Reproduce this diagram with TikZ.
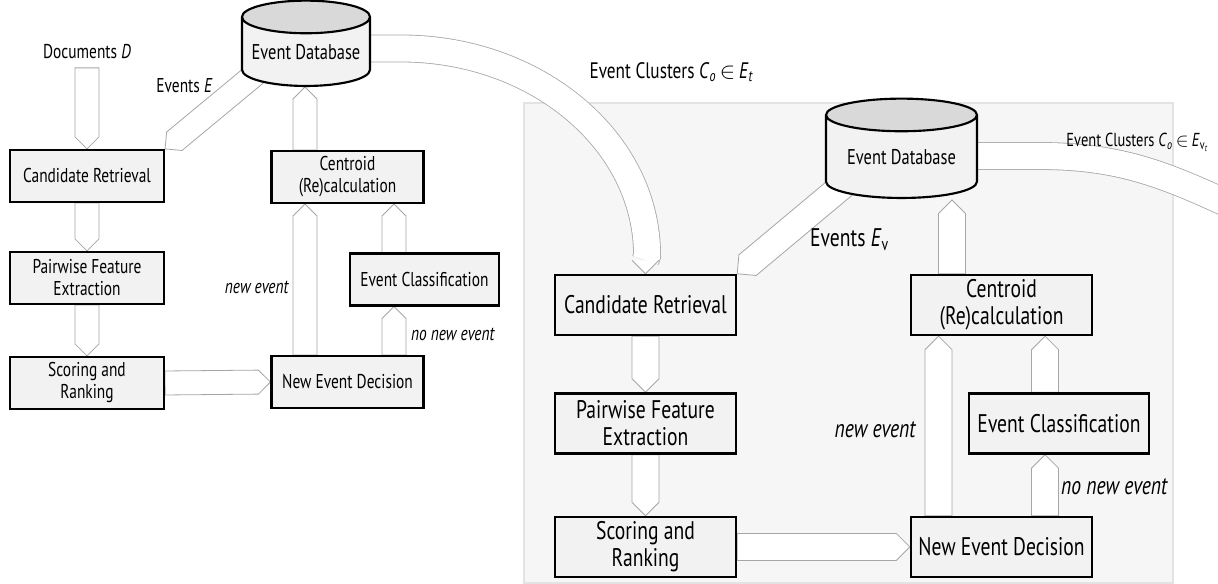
\documentclass[tikz,border=0pt]{standalone}
\usepackage{fontspec}
\setmainfont[FakeStretch = 0.77]{PT Sans}
\usetikzlibrary{shapes.geometric, calc}
\definecolor{boxfill}{HTML}{F2F2F2}
\definecolor{panelfill}{HTML}{F6F6F6}
\definecolor{paneldraw}{HTML}{E3E3E3}
\definecolor{arrowline}{HTML}{A6A6A6}
\definecolor{dbtop}{HTML}{D9D9D9}
\pgfdeclarelayer{panel}
\pgfdeclarelayer{arrows}
\pgfsetlayers{panel,arrows,main}
\tikzset{
    lbox/.style = {draw, line width = 1.6pt, fill = boxfill, align = center, inner sep = 0pt, minimum width = 115.5pt, minimum height = 39pt, font = \fontsize{15}{16.5}\selectfont},
    rbox/.style = {lbox, line width = 1.8pt, minimum width = 135.75pt, minimum height = 45pt, font = \fontsize{19.1}{20.3}\selectfont},
    dbase/.style = {cylinder, shape border rotate = 90, draw, line width = 1.6pt, cylinder uses custom fill, cylinder body fill = boxfill, cylinder end fill = dbtop, aspect = 0.3, inner sep = 0pt, font = \fontsize{16}{18}\selectfont},
    blockarr/.style = {draw = arrowline, fill = white, line width = 0.6pt, line join = miter},
    band/.style = {draw = arrowline, double = white, double distance = 19.65pt, line width = 0.6pt},
    lfont/.style = {font = \fontsize{15}{16.5}\selectfont},
    rfont/.style = {font = \fontsize{19.1}{20.3}\selectfont}
}
% block arrow: half width, tail, tip
\newcommand{\blockarrow}[3]{%
    \path #2 coordinate (ba1) #3 coordinate (ba2);
    \coordinate (ba3) at ($(ba2)!#1!(ba1)$);
    \filldraw[blockarr] ($(ba1)!#1!90:(ba2)$) -- ($(ba3)!#1!-90:(ba1)$) -- (ba2) -- ($(ba3)!#1!90:(ba1)$) -- ($(ba1)!#1!-90:(ba2)$) -- cycle;
}
\begin{document}
\begin{tikzpicture}[x = 0.75pt, y = 0.75pt]
        \useasboundingbox (0, 0) rectangle (1218, 584);
        \begin{pgfonlayer}{panel}
            \filldraw[fill = panelfill, draw = paneldraw, line width = 0.8pt] (524, 1) rectangle (1173, 481);
        \end{pgfonlayer}
        % left pipeline
        \node[dbase, minimum width = 96pt, minimum height = 64pt](db1) at (306, 532){Event Database};
        \node[lfont](doc) at (87, 532){Documents \textit{D}};
        \node[lfont](evE) at (184.5, 498){Events \textit{E}};
        \node[lbox](cr1) at (87, 408){Candidate Retrieval};
        \node[lbox](pfe1) at (87, 306){Pairwise Feature\\Extraction};
        \node[lbox](sr1) at (87, 201){Scoring and\\Ranking};
        \node[lbox, minimum width = 114pt](ned1) at (347.5, 202){New Event Decision};
        \node[lbox, minimum width = 114pt](cc1) at (347.5, 407){Centroid\\(Re)calculation};
        \node[lbox, minimum width = 111.75pt](ec1) at (424.5, 304.5){Event Classification};
        \node[lfont](ne1) at (257, 297){\textit{new event}};
        \node[lfont](nne1) at (453, 250){\textit{no new event}};
        \coordinate (up1) at ($(cc1.south)+(-42.5, 0)$);
        \coordinate (up2) at ($(ec1.south)+(-30.5, 0)$);
        % right pipeline
        \node[dbase, minimum width = 113.25pt, minimum height = 74.5pt](db2) at (901.5, 427){Event Database};
        \node[font = \fontsize{16.8}{18}\selectfont](clu1) at (671.5, 512){Event Clusters \textit{C}\textsubscript{\textit{o}}\,$\in$\,\textit{E}\textsubscript{\textit{t}}};
        \node[rfont](evEv) at (849.5, 344){Events \textit{E}\textsubscript{v}};
        \node[font = \fontsize{14.1}{16}\selectfont](clu2) at (1137.5, 442){Event Clusters \textit{C}\textsubscript{\textit{o}}\,$\in$\,\textit{E}\textsubscript{v\textsubscript{\textit{t}}}};
        \node[rbox](cr2) at (645.5, 279){Candidate Retrieval};
        \node[rbox](pfe2) at (645.5, 160.5){Pairwise Feature\\Extraction};
        \node[rbox](sr2) at (645.5, 37){Scoring and\\Ranking};
        \node[rbox](ned2) at (1001.5, 37){New Event Decision};
        \node[rbox](cc2) at (1001.5, 279){Centroid\\(Re)calculation};
        \node[rbox, minimum width = 135pt](ec2) at (1059, 160.5){Event Classification};
        \node[rfont](ne2) at (875.5, 154){\textit{new event}};
        \node[rfont](nne2) at (1114.5, 97){\textit{no new event}};
        \coordinate (up3) at ($(cc2.south)+(-63, 0)$);
        \coordinate (up4) at ($(ec2.south)+(-14, 0)$);
        \coordinate (up5) at ($(db2.south)+(50.5, -1)$);
        \begin{pgfonlayer}{arrows}
            % left
            \blockarrow{9pt}{($(doc.south)+(0, -4)$)}{(cr1.north)}
            \blockarrow{9pt}{(cr1.south)}{(pfe1.north)}
            \blockarrow{9pt}{(pfe1.south)}{(sr1.north)}
            \blockarrow{9pt}{(sr1.east)}{(ned1.west)}
            \blockarrow{9pt}{(up1 |- ned1.north)}{(up1)}
            \blockarrow{9pt}{(up2 |- ned1.north)}{(up2)}
            \blockarrow{9pt}{(up2 |- ec1.north)}{(up2 |- cc1.south)}
            \blockarrow{9pt}{(up1 |- cc1.north)}{(up1 |- db1.south)}
            \blockarrow{9pt}{($(db1.center)+(-38.5, -12)$)}{(cr1.north east)}
            \draw[band] ($(db1.east)+(0, 3.5)$) -- ++(30, 0) arc[start angle = 90, end angle = 0, x radius = 246, y radius = 207] -- ($(cr2.north)+(0, 13.5)$);
            \filldraw[blockarr] ($(cr2.north)+(-13.5, 13.5)$) -- (cr2.north) -- ($(cr2.north)+(13.5, 13.5)$);
            % right
            \blockarrow{10.1pt}{(cr2.south)}{(pfe2.north)}
            \blockarrow{10.1pt}{(pfe2.south)}{(sr2.north)}
            \blockarrow{10.1pt}{(sr2.east)}{(ned2.west)}
            \blockarrow{10.1pt}{(up3 |- ned2.north)}{(up3)}
            \blockarrow{10.1pt}{(up4 |- ned2.north)}{(up4)}
            \blockarrow{10.1pt}{(up4 |- ec2.north)}{(up4 |- cc2.south)}
            \blockarrow{10.1pt}{(up5 |- cc2.north)}{(up5)}
            \blockarrow{10.1pt}{($(db2.center)+(-43.8, -16)$)}{(cr2.north east)}
            \draw[band] ($(db2.east)+(0, 1)$) -- ++(60, 0) to[out = 0, in = 155] ++(190, -48);
        \end{pgfonlayer}
    \end{tikzpicture}
\end{document}
